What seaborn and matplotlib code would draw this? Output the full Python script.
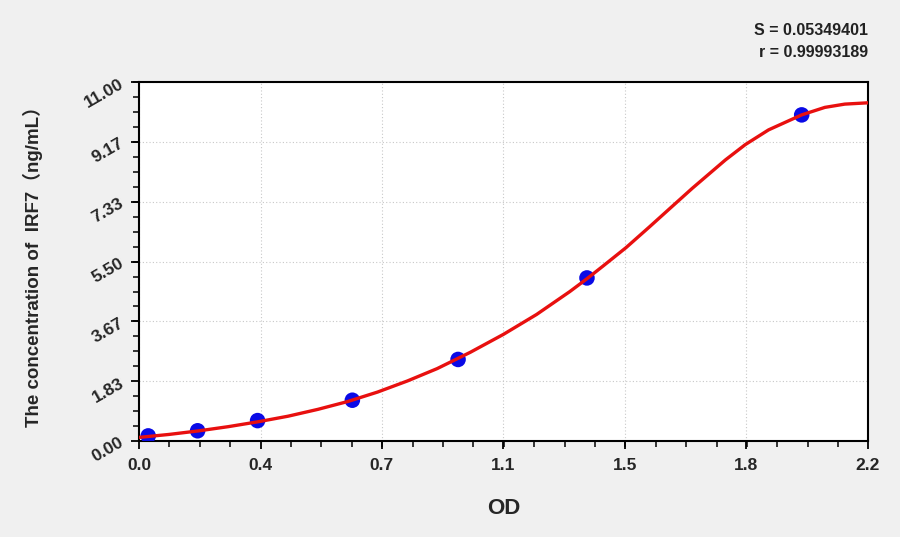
import numpy as np
import pandas as pd
import matplotlib
matplotlib.use("Agg")
import matplotlib.pyplot as plt
import seaborn as sns
from matplotlib.ticker import FixedLocator, AutoMinorLocator

# standard points
od = [0.028, 0.177, 0.358, 0.644, 0.963, 1.352, 2.000]
conc = [0.156, 0.313, 0.625, 1.25, 2.5, 5.0, 10.0]

# fitted curve
curve_od = [0.00, 0.09, 0.18, 0.27, 0.36, 0.45, 0.54, 0.63, 0.72, 0.81, 0.90,
            1.00, 1.10, 1.20, 1.30, 1.35, 1.40, 1.47, 1.54, 1.60, 1.67, 1.77,
            1.83, 1.90, 2.00, 2.07, 2.13, 2.20]
curve_conc = [0.11, 0.20, 0.31, 0.44, 0.59, 0.76, 0.97, 1.21, 1.50, 1.84, 2.22,
              2.72, 3.27, 3.88, 4.58, 4.96, 5.36, 5.93, 6.56, 7.11, 7.75, 8.62,
              9.09, 9.54, 10.00, 10.23, 10.33, 10.37]

x_ticks = [0.0, 0.367, 0.733, 1.1, 1.467, 1.833, 2.2]
x_labels = ["0.0", "0.4", "0.7", "1.1", "1.5", "1.8", "2.2"]
y_ticks = [0.0, 1.833, 3.667, 5.5, 7.333, 9.167, 11.0]
y_labels = ["0.00", "1.83", "3.67", "5.50", "7.33", "9.17", "11.00"]
stats_text = ["S = 0.05349401", "r = 0.99993189"]

pts = pd.DataFrame({"OD": od, "conc": conc})
fit = pd.DataFrame({"OD": curve_od, "conc": curve_conc})

sns.set_style("white")
plt.rcParams["font.family"] = ["Liberation Sans", "Noto Sans CJK SC", "DejaVu Sans"]

fig = plt.figure(figsize=(9, 5.37), dpi=100, facecolor="#f0f0f0")
ax = fig.add_axes([0.1544, 0.1788, 0.81, 0.668])
ax.set_facecolor("white")

# points sit under the red curve
sns.scatterplot(data=pts, x="OD", y="conc", ax=ax, color="#0a0ae6", s=125,
                edgecolor="none", zorder=3, legend=False)
sns.lineplot(data=fit, x="OD", y="conc", ax=ax, color="#e8100f", lw=2.4,
             zorder=4, sort=True)

ax.set_xlim(0, 2.2)
ax.set_ylim(0, 11)
ax.xaxis.set_major_locator(FixedLocator(x_ticks))
ax.yaxis.set_major_locator(FixedLocator(y_ticks))
ax.xaxis.set_minor_locator(AutoMinorLocator(4))
ax.yaxis.set_minor_locator(AutoMinorLocator(4))
ax.set_xticklabels(x_labels, fontsize=12.5, fontweight="bold")
ax.set_yticklabels(y_labels, fontsize=12.5, fontweight="bold", rotation=30)
ax.tick_params(which="major", direction="out", length=6, width=1.3, color="black",
               bottom=True, left=True, pad=3)
ax.tick_params(which="minor", direction="out", length=4, width=1.1, color="black",
               bottom=True, left=True)
ax.tick_params(axis="x", pad=6)

ax.grid(True, which="major", linestyle=(0, (1, 2)), color="#c8c8c8", lw=0.8)
for sp in ax.spines.values():
    sp.set_color("black")
    sp.set_linewidth(1.5)

ax.set_xlabel("OD", fontsize=16, fontweight="bold", labelpad=18)
ax.set_ylabel("The concentration of  IRF7（ng/mL）", fontsize=13.5,
              fontweight="bold", labelpad=28)

fig.text(0.9644, 0.944, stats_text[0], ha="right", va="center",
         fontsize=11.5, fontweight="bold", color="#222222")
fig.text(0.9644, 0.903, stats_text[1], ha="right", va="center",
         fontsize=11.5, fontweight="bold", color="#222222")

fig.savefig("out.png", dpi=100, facecolor=fig.get_facecolor())
